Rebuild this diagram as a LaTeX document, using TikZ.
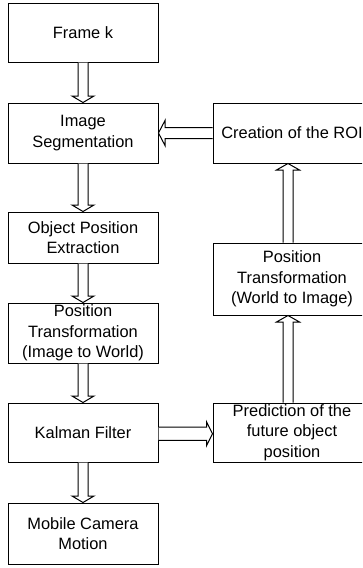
\documentclass[tikz,border=0pt]{standalone}
\usepackage{fontspec}
\setmainfont{Liberation Sans}
\usetikzlibrary{calc}
\tikzset{
  blockbox/.style={draw=black, line width=1pt, fill=white, rectangle, inner sep=0pt, align=center,
    font=\fontsize{16.4pt}{20.5pt}\selectfont},
  blk/.style={draw=black, line width=1pt, fill=white, line join=miter},
}
% vertical block arrow downward from #1.south to #2.north
\newcommand{\dnarr}[2]{%
  \draw[blk] let \p1=(#1.south), \p2=(#2.north) in
    (\x1-5pt,\y1) -- (\x1-5pt,\y2+6.5pt) -- (\x1-11pt,\y2+6.5pt) -- (\x1,\y2)
    -- (\x1+11pt,\y2+6.5pt) -- (\x1+5pt,\y2+6.5pt) -- (\x1+5pt,\y1);}
% vertical block arrow upward from #1.north to #2.south, x offset #3
\newcommand{\uparr}[3]{%
  \draw[blk] let \p1=($(#1.north)+(#3,0)$), \p2=($(#2.south)+(#3,0)$) in
    (\x1-5pt,\y1) -- (\x1-5pt,\y2-6.5pt) -- (\x1-11.5pt,\y2-6.5pt) -- (\x1,\y2)
    -- (\x1+11.5pt,\y2-6.5pt) -- (\x1+5pt,\y2-6.5pt) -- (\x1+5pt,\y1);}
\begin{document}
\begin{tikzpicture}[x=1pt,y=-1pt]
\useasboundingbox (0,0) rectangle (362,568);
\clip (0,0) rectangle (362,568);
% left column
\node[blockbox, minimum width=150pt, minimum height=59pt] (frame) at (83,32.5) {Frame k};
\node[blockbox, minimum width=150pt, minimum height=60pt] (seg) at (83,133) {Image\\Segmentation};
\node[blockbox, minimum width=150pt, minimum height=51pt] (ope) at (83,237.5) {Object Position\\Extraction};
\node[blockbox, minimum width=150pt, minimum height=60pt] (pti) at (83,333) {Position\\Transformation\\(Image to World)};
\node[blockbox, minimum width=150pt, minimum height=59pt] (kal) at (83,432.5) {Kalman Filter};
\node[blockbox, minimum width=150pt, minimum height=61pt] (mob) at (83,533.5) {Mobile Camera\\Motion};
% right column
\node[blockbox, minimum width=158pt, minimum height=60pt] (roi) at (292,133) {Creation of the ROI};
\node[blockbox, minimum width=158pt, minimum height=72pt] (ptw) at (292,279) {Position\\Transformation\\(World to Image)};
\node[blockbox, minimum width=158pt, minimum height=59pt] (pred) at (292,432.5) {Prediction of the\\future object\\position};
% arrows
\dnarr{frame}{seg}
\dnarr{seg}{ope}
\dnarr{ope}{pti}
\dnarr{pti}{kal}
\dnarr{kal}{mob}
\uparr{pred}{ptw}{-4pt}
\uparr{ptw}{roi}{-4pt}
% roi -> seg (leftward)
\draw[blk] let \p1=(roi.west), \p2=(seg.east) in
  (\x1,\y1+5.5pt) -- (\x2+6.5pt,\y1+5.5pt) -- (\x2+6.5pt,\y1+12.5pt) -- (\x2,\y1)
  -- (\x2+6.5pt,\y1-12.5pt) -- (\x2+6.5pt,\y1-5.5pt) -- (\x1,\y1-5.5pt);
% kal -> pred (rightward)
\draw[blk] let \p1=($(kal.east)+(0,-1.2pt)$), \p2=(pred.west) in
  (\x1,\y1+6.7pt) -- (\x2-6pt,\y1+6.7pt) -- (\x2-6pt,\y1+12pt) -- (\x2,\y1)
  -- (\x2-6pt,\y1-12pt) -- (\x2-6pt,\y1-6.7pt) -- (\x1,\y1-6.7pt);
\end{tikzpicture}
\end{document}
